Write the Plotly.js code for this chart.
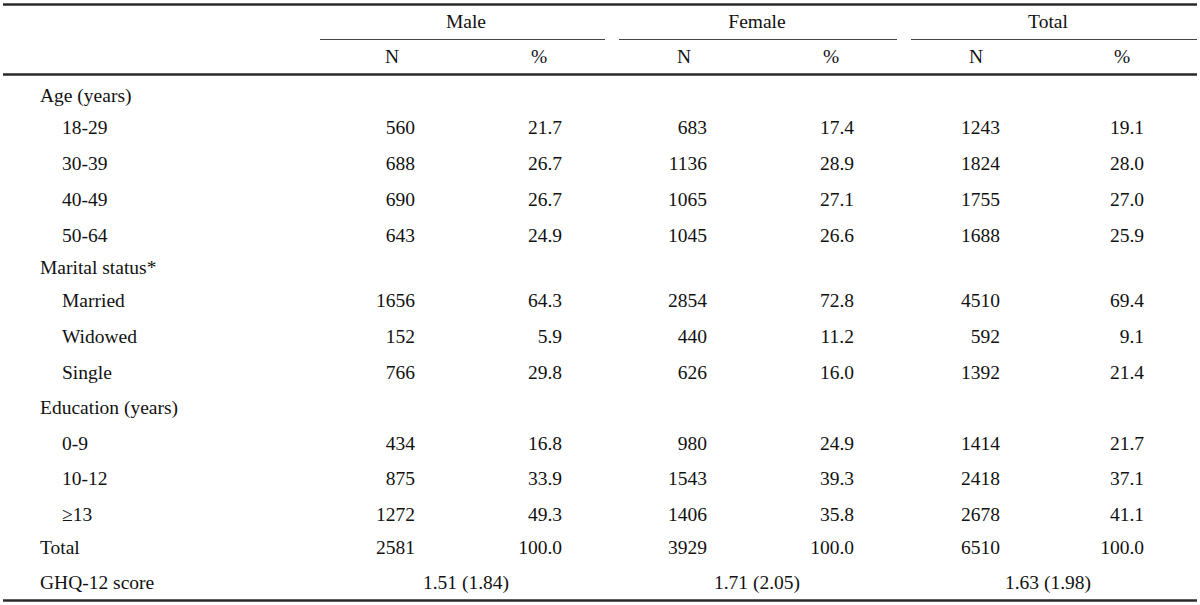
<!DOCTYPE html>
<html>
<head>
<meta charset="utf-8">
<script src="https://cdn.plot.ly/plotly-3.0.1.min.js"></script>
<style>html,body{margin:0;padding:0;background:#fff;}#chart{width:1200px;height:605px;}</style>
</head>
<body>
<div id="chart"></div>
<script>
// ---------- DATA ----------
const groups = ["Male", "Female", "Total"];
const subHeaders = ["N", "%"];
const rowLabels = ["Age (years)", "18-29", "30-39", "40-49", "50-64",
  "Marital status*", "Married", "Widowed", "Single",
  "Education (years)", "0-9", "10-12", "\u226513", "Total", "GHQ-12 score"];
const isSection = [true, false, false, false, false, true, false, false, false, true, false, false, false, true, true];
const maleN      = [null, 560, 688, 690, 643, null, 1656, 152, 766, null, 434, 875, 1272, 2581, null];
const malePct    = [null, 21.7, 26.7, 26.7, 24.9, null, 64.3, 5.9, 29.8, null, 16.8, 33.9, 49.3, 100.0, null];
const femaleN    = [null, 683, 1136, 1065, 1045, null, 2854, 440, 626, null, 980, 1543, 1406, 3929, null];
const femalePct  = [null, 17.4, 28.9, 27.1, 26.6, null, 72.8, 11.2, 16.0, null, 24.9, 39.3, 35.8, 100.0, null];
const totalN     = [null, 1243, 1824, 1755, 1688, null, 4510, 592, 1392, null, 1414, 2418, 2678, 6510, null];
const totalPct   = [null, 19.1, 28.0, 27.0, 25.9, null, 69.4, 9.1, 21.4, null, 21.7, 37.1, 41.1, 100.0, null];
const ghqMean    = [1.51, 1.71, 1.63];
const ghqSD      = [1.84, 2.05, 1.98];

// ---------- LAYOUT GEOMETRY (pixel-like coordinates) ----------
const TEXT_DY = 1.5;
const rowY = [96, 128, 164, 200, 236, 268, 301, 337, 373, 408, 444, 479, 515, 548, 583].map(y => y + TEXT_DY);
const groupY = 22 + TEXT_DY, subY = 57 + TEXT_DY;
const groupCenter = [466, 757, 1048];
const subCenter = [[392, 539], [684, 831], [976, 1122]];
const colRight = [[415, 562], [707, 854], [1000, 1144]];
const underline = [[320, 605], [619, 897], [911, 1197]];
const labelX = 40, subLabelX = 62;
const FONT = {family: "Liberation Serif, Times New Roman, serif", size: 19.5, color: "#111"};

const traces = [];
function textTrace(xs, ys, texts, pos) {
  traces.push({type: "scatter", mode: "text", x: xs, y: ys, text: texts,
    textposition: pos, textfont: FONT, hoverinfo: "skip", showlegend: false, cliponaxis: false});
}

// row labels
textTrace(rowLabels.map((l, i) => isSection[i] ? labelX : subLabelX), rowY, rowLabels, "middle right");

// group headers
textTrace(groupCenter, groups.map(() => groupY), groups, "middle center");
// sub headers
const shX = [], shY = [], shT = [];
subCenter.forEach(pair => pair.forEach((x, j) => { shX.push(x); shY.push(subY); shT.push(subHeaders[j]); }));
textTrace(shX, shY, shT, "middle center");

// numeric columns
const series = [[maleN, malePct], [femaleN, femalePct], [totalN, totalPct]];
series.forEach((pair, g) => {
  pair.forEach((arr, j) => {
    const xs = [], ys = [], ts = [];
    arr.forEach((v, i) => {
      if (v === null) return;
      xs.push(colRight[g][j]); ys.push(rowY[i]);
      ts.push(j === 0 ? String(v) : v.toFixed(1));
    });
    textTrace(xs, ys, ts, "middle left");
  });
});

// GHQ row
textTrace(groupCenter, groupCenter.map(() => rowY[rowY.length - 1]),
  ghqMean.map((m, i) => m.toFixed(2) + " (" + ghqSD[i].toFixed(2) + ")"), "middle center");

// ---------- SHAPES ----------
const shapes = [];
const thick = {color: "#2a2a2a", width: 2.6};
[4.5, 74.5, 600.5].forEach(y => shapes.push({type: "line", xref: "x", yref: "y", x0: 3, x1: 1197, y0: y, y1: y, line: thick}));
underline.forEach(([a, b]) => shapes.push({type: "line", xref: "x", yref: "y", x0: a, x1: b, y0: 39.5, y1: 39.5, line: {color: "#444", width: 1.2}}));

const layout = {
  width: 1200, height: 605,
  margin: {l: 0, r: 0, t: 0, b: 0},
  paper_bgcolor: "#fff", plot_bgcolor: "#fff",
  xaxis: {range: [0, 1200], visible: false, fixedrange: true},
  yaxis: {range: [605, 0], visible: false, fixedrange: true},
  shapes: shapes,
  showlegend: false
};
Plotly.newPlot("chart", traces, layout, {staticPlot: true, displayModeBar: false});
</script>
</body>
</html>
